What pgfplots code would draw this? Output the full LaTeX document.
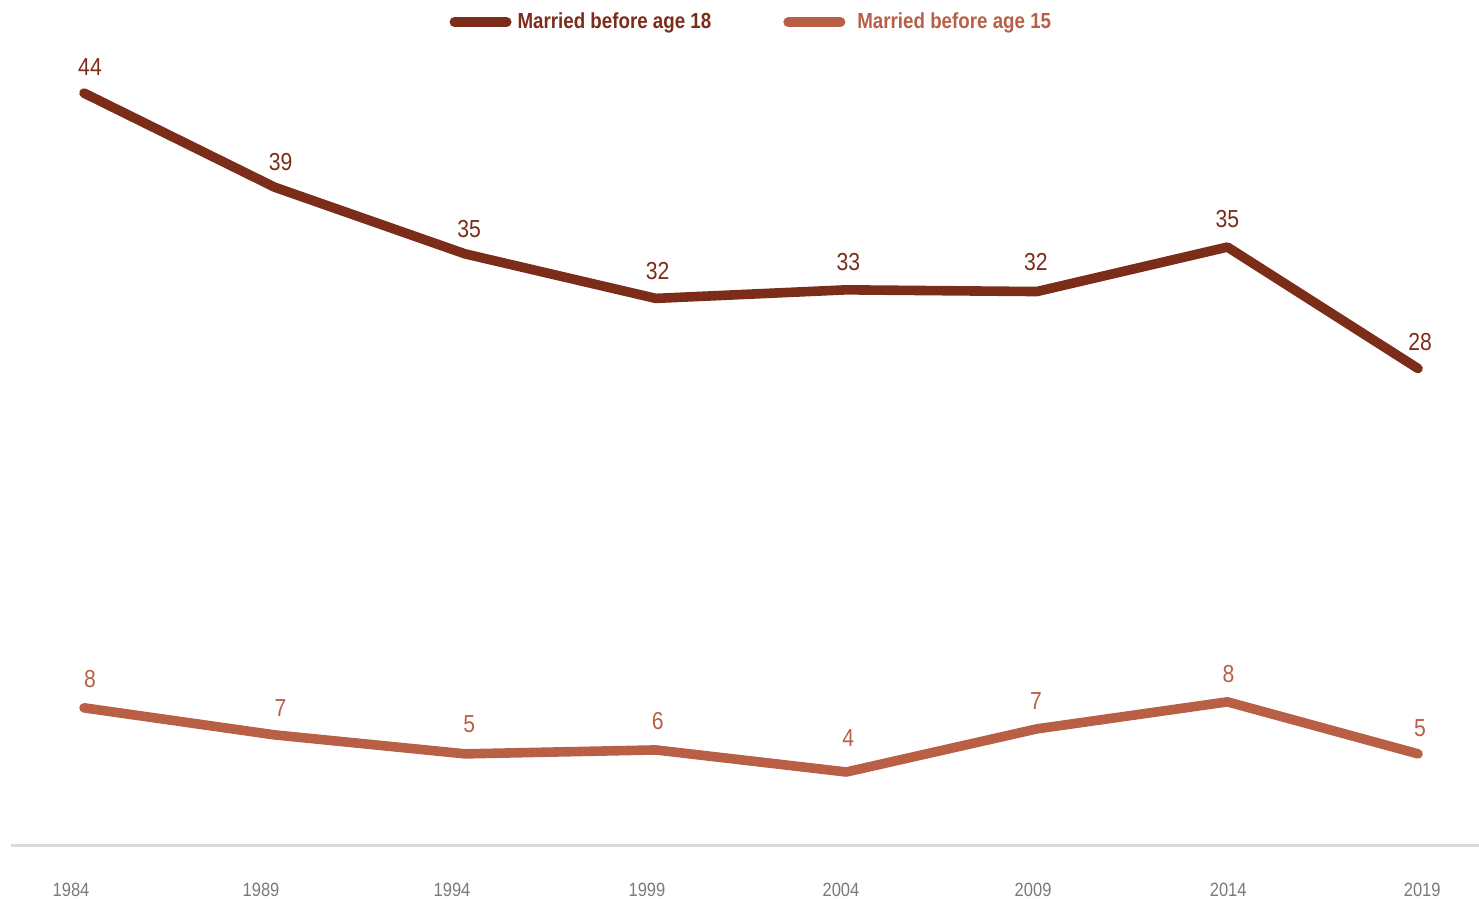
\documentclass[border=0pt]{standalone}
\usepackage{pgfplots}
\usepackage{pgfplotstable}
\pgfplotsset{compat=1.18}
\usepackage{fontspec}
\setmainfont[FakeStretch=0.86]{Liberation Sans}
\definecolor{cA}{HTML}{7B2D1A}
\definecolor{cB}{HTML}{B85F45}
\definecolor{tk}{HTML}{7A7A7A}
\definecolor{ax}{HTML}{D9D9D9}

\pgfplotstableread{
year val label dx dy
1984 44.0 44 3 13
1989 38.5 39 3 12.5
1994 34.6 35 2 12.5
1999 32.0 32 1 13.5
2004 32.5 33 1 14
2009 32.4 32 -0.5 15
2014 35.0 35 0 14
2019 27.9 28 1 13.5
}\tabA
\pgfplotstableread{
year val label dx dy
1984 8.07 8 3 14.5
1989 6.49 7 3 13.5
1994 5.38 5 2 15
1999 5.61 6 1 14.5
2004 4.32 4 1 17
2009 6.84 7 -0.5 14
2014 8.42 8 0.5 14
2019 5.38 5 1 13
}\tabB

\begin{document}
\begin{tikzpicture}
\begin{axis}[
  scale only axis,
  width=734pt, height=410.65pt,
  xmin=1982.085, xmax=2020.60,
  ymin=0, ymax=48,
  axis x line=bottom, axis y line=none,
  x axis line style={draw=ax, line width=1.5pt, -},
  xtick={1983.659,1988.644,1993.655,1998.77,2003.86,2008.90,2014.02,2019.11},
  xticklabels={1984,1989,1994,1999,2004,2009,2014,2019},
  xtick style={draw=none},
  ytick=\empty,
  x tick label style={font=\fontsize{9.6}{10}\selectfont, text=tk, yshift=-12.8pt},
  clip=false,
  point meta=explicit symbolic,
  nodes near coords,
  visualization depends on={\thisrow{dx} \as \dx},
  visualization depends on={\thisrow{dy} \as \dy},
  every node near coord/.append style={anchor=center, xshift=\dx pt, yshift=\dy pt, font=\fontsize{12.3}{13}\selectfont, inner sep=0pt},
  legend columns=2,
  legend style={at={(0.505,1.003)}, anchor=center, draw=none, fill=none,
    /tikz/every even column/.append style={column sep=34pt},
    font=\fontsize{10.9}{12}\selectfont\bfseries, inner sep=0pt},
  legend image code/.code={\draw[#1, line width=5pt, line cap=round] (0pt,0pt) -- (26pt,0pt);},
]
\addplot[cA, line width=4.8pt, line cap=round, line join=round, every node near coord/.append style={text=cA}] table[x=year, y=val, meta=label] {\tabA};
\addlegendentry{\hspace{1pt}\textcolor{cA}{Married before age 18}}
\addplot[cB, line width=4.8pt, line cap=round, line join=round, every node near coord/.append style={text=cB}] table[x=year, y=val, meta=label] {\tabB};
\addlegendentry{\hspace{4pt}\textcolor{cB}{Married before age 15}}
\coordinate (bbSW) at (axis cs:1981.796,-3.098);
\coordinate (bbNE) at (axis cs:2020.60,49.44);
\end{axis}
\pgfresetboundingbox
\path (bbSW) rectangle (bbNE);
\end{tikzpicture}
\end{document}
